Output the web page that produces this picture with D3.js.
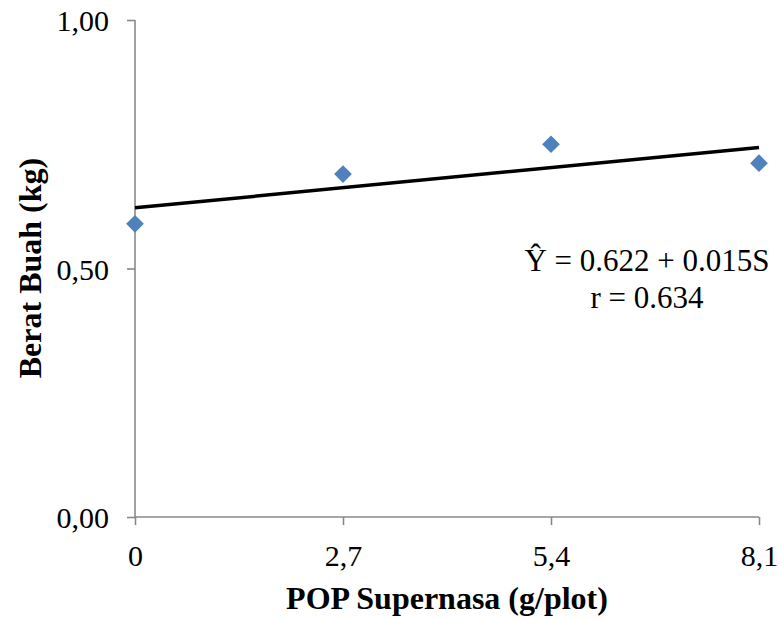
<!DOCTYPE html>
<html>
<head>
<meta charset="utf-8">
<script src="https://cdn.jsdelivr.net/npm/d3@7"></script>
<style>
  body { margin: 0; background: #fff; }
  text { font-family: "Liberation Serif", "Times New Roman", serif; }
</style>
</head>
<body>
<svg id="chart"></svg>
<script>
var width = 779, height = 619;

// data
var doses = [0, 2.7, 5.4, 8.1];
var weights = [0.59, 0.69, 0.75, 0.712];
var xTicks = [0, 2.7, 5.4, 8.1];
var yTicks = [0, 0.5, 1];
var intercept = 0.622, slope = 0.015;
var eqLines = ["\u0176 = 0.622 + 0.015S", "r = 0.634"];

var margin = {left: 135, right: 20, top: 20, bottom: 102};

var x = d3.scaleLinear().domain([0, 8.1]).range([margin.left, width - margin.right]);
var y = d3.scaleLinear().domain([0, 1]).range([height - margin.bottom, margin.top]);

var fmt = function(d) { return d3.format(".1f")(d).replace(".", ","); };
var fmtY = function(d) { return d3.format(".2f")(d).replace(".", ","); };

var svg = d3.select("#chart").attr("width", width).attr("height", height);

// y axis
var yAxis = svg.append("g")
    .attr("transform", "translate(" + margin.left + ",0)")
    .call(d3.axisLeft(y).tickValues(yTicks).tickFormat(fmtY).tickSize(8).tickPadding(18));

// x axis
var xAxis = svg.append("g")
    .attr("transform", "translate(0," + y(0) + ")")
    .call(d3.axisBottom(x).tickValues(xTicks).tickFormat(function(d) { return d === 0 ? "0" : fmt(d); }).tickSize(8).tickPadding(20));

[xAxis, yAxis].forEach(function(g) {
  g.select(".domain").attr("stroke", "#898989").attr("stroke-width", 1.6);
  g.selectAll(".tick line").attr("stroke", "#898989").attr("stroke-width", 1.6);
  g.selectAll(".tick text").attr("fill", "#000").style("font-size", "30px");
});
xAxis.select(".domain").attr("d", "M" + margin.left + ",0H" + (width - margin.right));
yAxis.select(".domain").attr("d", "M0," + y(0) + "V" + margin.top);
yAxis.selectAll(".tick text").attr("dy", "0.35em");

// trend line
svg.append("line")
    .attr("x1", x(0)).attr("y1", y(intercept))
    .attr("x2", x(8.1)).attr("y2", y(intercept + slope * 8.1))
    .attr("stroke", "#000").attr("stroke-width", 3.5);

// points
svg.selectAll("path.pt")
  .data(doses)
  .enter().append("path")
    .attr("class", "pt")
    .attr("d", d3.symbol().type(d3.symbolDiamond2).size(200))
    .attr("transform", function(d, i) { return "translate(" + x(d) + "," + y(weights[i]) + ")"; })
    .attr("fill", "#4F81BD");

// equation
svg.selectAll("text.eq")
  .data(eqLines)
  .enter().append("text")
    .attr("class", "eq")
    .attr("x", 647)
    .attr("y", function(d, i) { return 271 + i * 37; })
    .attr("text-anchor", "middle")
    .style("font-size", "31px")
    .text(function(d) { return d; });

// axis titles
svg.append("text")
    .attr("x", 447)
    .attr("y", 609)
    .attr("text-anchor", "middle")
    .style("font-size", "32px").style("font-weight", "bold")
    .text("POP Supernasa (g/plot)");

svg.append("text")
    .attr("transform", "translate(41," + 268 + ") rotate(-90)")
    .attr("text-anchor", "middle")
    .style("font-size", "32px").style("font-weight", "bold")
    .text("Berat Buah (kg)");
</script>
</body>
</html>
